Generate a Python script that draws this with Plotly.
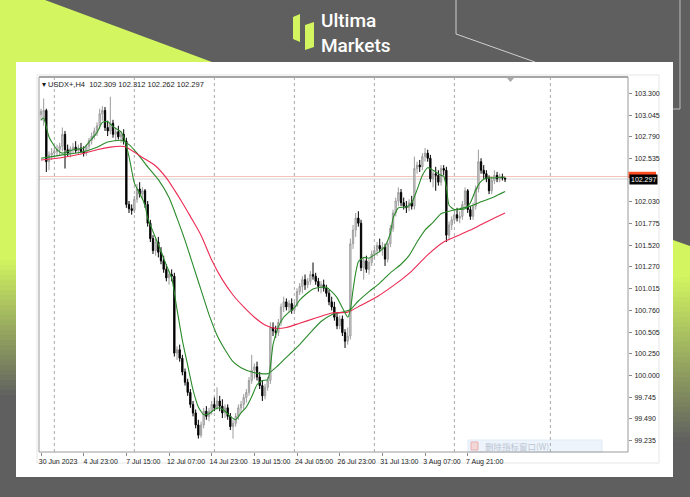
import plotly.graph_objects as go

# ---------------- data ----------------
symbol = "USDX+"
timeframe = "H4"

open_ = [103.05,102.98,103.10,102.50,102.58,102.60,102.62,102.64,102.68,102.82,
         102.64,102.60,102.65,102.67,102.63,102.66,102.62,102.60,102.68,102.75,
         102.80,102.86,102.92,103.06,103.10,102.90,102.86,102.95,102.82,102.85,
         102.79,102.82,102.74,102.00,101.95,101.93,102.06,102.18,102.12,102.16,
         102.00,101.78,101.60,101.46,101.56,101.44,101.34,101.24,101.14,101.18,
         101.16,100.26,100.30,100.20,100.04,99.92,99.80,99.66,99.56,99.42,
         99.30,99.42,99.58,99.52,99.58,99.66,99.62,99.70,99.64,99.56,
         99.62,99.52,99.40,99.44,99.52,99.62,99.66,99.74,99.80,99.94,
         100.06,100.10,99.98,99.88,99.76,99.86,99.94,100.56,100.52,100.50,
         100.62,100.80,100.86,100.80,100.84,100.76,100.82,100.98,101.04,101.12,
         101.06,101.10,101.18,101.16,101.10,101.04,101.06,101.02,100.96,100.86,
         100.80,100.68,100.58,100.66,100.50,100.40,100.46,101.54,101.70,101.84,
         101.78,101.26,101.34,101.24,101.32,101.42,101.46,101.52,101.48,101.50,
         101.36,101.54,101.72,101.90,102.04,102.14,102.02,101.98,101.96,102.02,
         101.98,102.42,102.46,102.44,102.56,102.60,102.54,102.30,102.36,102.34,
         102.26,102.42,102.40,101.64,101.76,101.82,101.88,101.84,101.86,102.00,
         102.16,101.94,101.86,101.98,102.18,102.50,102.40,102.36,102.30,102.16,
         102.28,102.34,102.30,102.32,102.309]
high_ = [103.12,103.24,103.12,102.62,102.66,102.68,102.70,102.72,102.90,102.86,
         102.70,102.68,102.72,102.74,102.70,102.72,102.68,102.70,102.78,102.84,
         102.90,102.96,103.12,103.15,103.14,102.98,103.26,102.99,102.90,102.92,
         102.86,102.88,102.78,102.04,102.00,102.10,102.24,102.26,102.20,102.18,
         102.04,101.82,101.64,101.60,101.62,101.50,101.40,101.30,101.22,101.24,
         101.20,100.34,100.36,100.24,100.08,99.96,99.84,99.70,99.60,99.48,
         99.46,99.62,99.64,99.62,99.70,99.74,99.86,99.76,99.72,99.66,
         99.66,99.56,99.48,99.56,99.66,99.70,99.78,99.84,99.98,100.24,
         100.14,100.16,100.04,99.94,99.90,99.98,100.62,100.62,100.58,100.66,
         100.84,100.92,100.90,100.88,100.90,100.86,101.02,101.08,101.16,101.18,
         101.14,101.22,101.32,101.20,101.14,101.10,101.12,101.06,101.00,100.92,
         100.86,100.74,100.70,100.70,100.54,100.56,101.60,101.76,101.90,101.92,
         101.82,101.38,101.40,101.36,101.46,101.50,101.56,101.60,101.56,101.54,
         101.58,101.76,101.94,102.08,102.20,102.18,102.08,102.04,102.06,102.10,
         102.56,102.50,102.52,102.60,102.66,102.64,102.58,102.40,102.44,102.40,
         102.46,102.46,102.44,101.80,101.86,101.92,101.96,101.92,102.04,102.20,
         102.18,101.98,102.02,102.22,102.64,102.54,102.46,102.40,102.34,102.32,
         102.40,102.38,102.36,102.36,102.312]
low_ = [102.98,102.92,102.38,102.40,102.52,102.55,102.56,102.58,102.62,102.42,
        102.56,102.55,102.60,102.60,102.58,102.60,102.56,102.57,102.64,102.70,
        102.76,102.80,102.88,102.98,102.86,102.80,102.82,102.78,102.74,102.76,
        102.72,102.70,101.96,101.90,101.88,101.90,102.02,102.08,102.06,101.96,
        101.74,101.56,101.42,101.40,101.38,101.30,101.20,101.10,101.06,101.10,
        100.22,100.18,100.16,100.00,99.88,99.76,99.62,99.52,99.38,99.26,
        99.27,99.38,99.48,99.46,99.54,99.58,99.60,99.58,99.50,99.50,
        99.48,99.36,99.26,99.40,99.48,99.56,99.60,99.68,99.76,99.90,
        99.96,99.94,99.84,99.70,99.72,99.82,99.90,100.46,100.44,100.46,
        100.58,100.74,100.76,100.74,100.72,100.72,100.80,100.94,100.96,101.00,
        101.02,101.06,101.12,101.06,100.98,100.96,100.98,100.92,100.82,100.76,
        100.64,100.54,100.54,100.46,100.32,100.36,100.42,101.48,101.62,101.74,
        101.22,101.12,101.20,101.18,101.28,101.36,101.40,101.44,101.40,101.28,
        101.32,101.50,101.68,101.86,101.98,101.98,101.94,101.90,101.92,101.94,
        101.94,102.36,102.38,102.40,102.50,102.50,102.26,102.20,102.16,102.22,
        102.22,102.34,101.56,101.58,101.70,101.78,101.80,101.78,101.82,101.96,
        101.90,101.82,101.82,101.94,102.14,102.36,102.30,102.26,102.12,102.12,
        102.24,102.26,102.26,102.28,102.262]
close_ = [103.09,103.10,102.50,102.58,102.60,102.62,102.64,102.68,102.82,102.64,
          102.60,102.65,102.67,102.63,102.66,102.62,102.60,102.68,102.75,102.80,
          102.86,102.92,103.06,103.10,102.90,102.86,102.95,102.82,102.85,102.79,
          102.82,102.74,102.00,101.95,101.93,102.06,102.18,102.12,102.16,102.00,
          101.78,101.60,101.46,101.56,101.44,101.34,101.24,101.14,101.18,101.16,
          100.26,100.30,100.20,100.04,99.92,99.80,99.66,99.56,99.42,99.30,
          99.42,99.58,99.52,99.58,99.66,99.62,99.70,99.64,99.56,99.62,
          99.52,99.40,99.44,99.52,99.62,99.66,99.74,99.80,99.94,100.06,
          100.10,99.98,99.88,99.76,99.86,99.94,100.56,100.52,100.50,100.62,
          100.80,100.86,100.80,100.84,100.76,100.82,100.98,101.04,101.12,101.06,
          101.10,101.18,101.16,101.10,101.04,101.06,101.02,100.96,100.86,100.80,
          100.68,100.58,100.66,100.50,100.40,100.46,101.54,101.70,101.84,101.78,
          101.26,101.34,101.24,101.32,101.42,101.46,101.52,101.48,101.50,101.36,
          101.54,101.72,101.90,102.04,102.14,102.02,101.98,101.96,102.02,101.98,
          102.42,102.46,102.44,102.56,102.60,102.54,102.30,102.36,102.34,102.26,
          102.42,102.40,101.64,101.76,101.82,101.88,101.84,101.86,102.00,102.16,
          101.94,101.86,101.98,102.18,102.50,102.40,102.36,102.30,102.16,102.28,
          102.34,102.30,102.32,102.309,102.297]

# moving averages (sampled at bar indices)
ma_fast_idx = [0,1,3,6,8,12,16,18,21,23,25,27,30,31,33,34,35,37,39,40,44,47,49,51,53,55,57,59,
               61,63,65,67,69,71,73,75,77,79,81,83,85,86,87,89,91,93,95,97,99,102,105,107,109,
               111,113,115,116,117,118,119,121,123,125,127,129,131,132,134,137,139,141,143,145,
               147,149,150,151,152,153,155,157,159,161,163,165,167,170,174]
ma_fast = [102.99,103.01,102.79,102.64,102.60,102.64,102.66,102.73,102.84,102.96,102.97,102.91,
           102.85,102.79,102.56,102.40,102.25,102.13,101.99,101.84,101.53,101.29,101.14,100.77,
           100.41,100.12,99.83,99.63,99.54,99.55,99.60,99.62,99.58,99.52,99.48,99.56,99.63,
           99.75,99.89,99.94,99.95,100.10,100.36,100.57,100.68,100.74,100.79,100.88,100.94,
           101.01,101.03,101.03,100.98,100.91,100.79,100.68,100.77,101.00,101.20,101.33,101.38,
           101.37,101.41,101.45,101.51,101.66,101.84,101.96,101.97,102.02,102.17,102.34,102.43,
           102.40,102.36,102.34,102.33,102.20,101.99,101.94,101.94,101.95,102.02,102.17,102.27,
           102.31,102.31,102.32]
ma_slow_idx = [0,8,15,21,25,30,33,36,40,44,48,51,54,57,60,63,66,69,72,75,80,85,88,91,94,97,
               101,105,109,113,116,119,123,127,131,135,138,141,144,147,150,153,157,161,165,170,174]
ma_slow = [102.54,102.58,102.61,102.67,102.73,102.75,102.70,102.60,102.44,102.29,102.08,101.84,
           101.58,101.29,101.00,100.71,100.47,100.30,100.16,100.09,100.03,100.02,100.09,100.18,
           100.27,100.36,100.50,100.63,100.71,100.74,100.77,100.87,100.98,101.08,101.20,101.30,
           101.40,101.56,101.70,101.79,101.89,101.92,101.95,101.98,102.03,102.09,102.15]
ma_red_idx = [0,8,15,21,26,30,32,38,43,47,50,53,56,60,64,68,72,76,80,84,88,92,97,103,109,115,
              120,126,133,139,145,151,156,161,166,170,174]
ma_red = [102.52,102.55,102.59,102.64,102.67,102.68,102.67,102.55,102.45,102.31,102.17,102.02,
          101.86,101.64,101.35,101.12,100.94,100.80,100.68,100.59,100.55,100.56,100.61,100.67,
          100.73,100.74,100.82,100.92,101.07,101.22,101.41,101.56,101.63,101.70,101.78,101.84,
          101.90]

bid_price = 102.297
ask_price = 102.327

x_label_idx = [0,16,32,48,64,80,96,112,128,144,160]
x_labels = ["30 Jun 2023","4 Jul 23:00","7 Jul 15:00","12 Jul 07:00","14 Jul 23:00",
            "19 Jul 15:00","24 Jul 05:00","26 Jul 23:00","31 Jul 13:00","3 Aug 07:00",
            "7 Aug 21:00"]
y_labels = ["103.300","103.045","102.790","102.535","102.030","101.775","101.520","101.270",
            "101.015","100.760","100.505","100.250","100.000","99.745","99.490","99.235"]
week_start_idx = [5,35,65,95,125,155,191]
menu_text = "删除指标窗口(W)"
brand_lines = ["Ultima", "Markets"]

# ---------------- figure ----------------
W, H = 690, 497
def px(x): return x / W
def py(y): return 1 - y / H

LIME = (211, 246, 96)
GRAY = (95, 95, 95)
def blend(t):
    c = [round(LIME[k] + (GRAY[k] - LIME[k]) * t) for k in range(3)]
    return "rgb(%d,%d,%d)" % tuple(c)
def path(points):
    s = "M " + " L ".join("%f,%f" % (px(a), py(b)) for a, b in points) + " Z"
    return s

bar_idx = list(range(len(close_)))
fig = go.Figure()
fig.add_trace(go.Candlestick(
    x=bar_idx, open=open_, high=high_, low=low_, close=close_,
    increasing=dict(line=dict(color="#9c9c9c", width=1), fillcolor="#dcdcdc"),
    decreasing=dict(line=dict(color="#000000", width=1), fillcolor="#000000"),
    whiskerwidth=0, hoverinfo="skip", showlegend=False))
fig.add_trace(go.Scatter(x=ma_slow_idx, y=ma_slow, mode="lines",
                         line=dict(color="#2a8a2a", width=1.1, shape="spline", smoothing=0.6),
                         hoverinfo="skip", showlegend=False))
fig.add_trace(go.Scatter(x=ma_red_idx, y=ma_red, mode="lines",
                         line=dict(color="#ec2a52", width=1.1, shape="spline", smoothing=0.6),
                         hoverinfo="skip", showlegend=False))
fig.add_trace(go.Scatter(x=ma_fast_idx, y=ma_fast, mode="lines",
                         line=dict(color="#2a8a2a", width=1.1, shape="spline", smoothing=0.5),
                         hoverinfo="skip", showlegend=False))

shapes = []
# lime decorations
shapes.append(dict(type="path", xref="paper", yref="paper", layer="below",
                   path=path([(0, 0), (45, 0), (212, 62), (16, 62), (16, 256), (0, 256)]),
                   fillcolor=blend(0), line=dict(width=0)))
y = 255
while y < 395:
    t = (y - 255) / 140
    shapes.append(dict(type="rect", xref="paper", yref="paper", layer="below",
                       x0=0, x1=px(16), y0=py(y), y1=py(y + 5.5),
                       fillcolor=blend(t), line=dict(width=0)))
    y += 5
shapes.append(dict(type="path", xref="paper", yref="paper", layer="below",
                   path=path([(673, 240), (690, 246), (690, 273), (673, 273)]),
                   fillcolor=blend(0), line=dict(width=0)))
y = 272
while y < 440:
    t = (y - 272) / 168
    shapes.append(dict(type="rect", xref="paper", yref="paper", layer="below",
                       x0=px(673), x1=1, y0=py(y), y1=py(y + 5.5),
                       fillcolor=blend(t), line=dict(width=0)))
    y += 5
# thin light lines top right
shapes.append(dict(type="path", xref="paper", yref="paper", layer="below",
                   path="M %f,%f L %f,%f L %f,%f" % (px(456), py(0), px(456), py(34), px(535), py(62)),
                   line=dict(color="#cfcfcf", width=1)))
shapes.append(dict(type="path", xref="paper", yref="paper", layer="below",
                   path="M %f,%f L %f,%f L %f,%f" % (px(680), py(0), px(680), py(109), px(673), py(109)),
                   line=dict(color="#bdbdbd", width=1)))
# logo icon
shapes.append(dict(type="path", xref="paper", yref="paper", layer="below",
                   path=path([(293, 17), (300, 14), (300, 42), (293, 39)]),
                   fillcolor=blend(0), line=dict(width=0)))
shapes.append(dict(type="path", xref="paper", yref="paper", layer="below",
                   path=path([(305, 25), (314, 22), (314, 47), (305, 50)]),
                   fillcolor=blend(0), line=dict(width=0)))
# white panel
shapes.append(dict(type="rect", xref="paper", yref="paper", layer="below",
                   x0=px(16), x1=px(673), y0=py(477), y1=py(62),
                   fillcolor="white", line=dict(width=0)))
# MT4 window outer frame
shapes.append(dict(type="rect", xref="paper", yref="paper", layer="below",
                   x0=px(37), x1=px(659), y0=py(463), y1=py(75),
                   fillcolor="rgba(0,0,0,0)", line=dict(color="#e6e6e6", width=1)))
# menu popup remnant
shapes.append(dict(type="rect", xref="paper", yref="paper", layer="below",
                   x0=px(468), x1=px(602), y0=py(452), y1=py(440),
                   fillcolor="#eef4fb", line=dict(color="#e0eaf5", width=1)))
shapes.append(dict(type="rect", xref="paper", yref="paper", layer="below",
                   x0=px(471), x1=px(478), y0=py(450), y1=py(442),
                   fillcolor="#f3d6d6", line=dict(color="#e8b0b0", width=1)))
# weekly dotted grid
for w in week_start_idx:
    shapes.append(dict(type="line", xref="x", yref="y domain", layer="below",
                       x0=w, x1=w, y0=0, y1=1,
                       line=dict(color="#a9a9a9", width=1, dash="dot")))
# ask / bid lines
shapes.append(dict(type="line", xref="x domain", yref="y", layer="below",
                   x0=0, x1=1, y0=ask_price, y1=ask_price,
                   line=dict(color="#f6c2ba", width=1)))
shapes.append(dict(type="line", xref="x domain", yref="y", layer="below",
                   x0=0, x1=1, y0=bid_price, y1=bid_price,
                   line=dict(color="#d4d4d4", width=1)))
# plot frame
shapes.append(dict(type="rect", xref="x domain", yref="y domain",
                   x0=0, x1=1, y0=0, y1=1, line=dict(color="#9a9a9a", width=1)))
shapes.append(dict(type="line", xref="x domain", yref="y domain",
                   x0=0, x1=1, y0=1, y1=1, line=dict(color="#a6a6a6", width=2)))
# chart shift marker
shapes.append(dict(type="path", xref="paper", yref="paper",
                   path=path([(507, 78), (514, 78), (510.5, 82)]),
                   fillcolor="#a8a8a8", line=dict(width=0)))
# ask price label box (mostly hidden behind the bid label)
shapes.append(dict(type="rect", xref="paper", yref="y",
                   x0=px(628.5), x1=px(656), y0=ask_price - 0.02, y1=ask_price + 0.055,
                   fillcolor="#ff4d1f", line=dict(width=0)))

annotations = []
annotations.append(dict(text=brand_lines[0], xref="paper", yref="paper", x=px(320), y=py(33.5),
                        xanchor="left", yanchor="bottom", showarrow=False, borderpad=0,
                        font=dict(family="Roboto", size=19, color="white", weight=500)))
annotations.append(dict(text=brand_lines[1], xref="paper", yref="paper", x=px(320), y=py(33.5),
                        xanchor="left", yanchor="top", showarrow=False, borderpad=0,
                        font=dict(family="Roboto", size=19, color="white", weight=500)))
header = "▾ %s,%s  %.3f %.3f %.3f %.3f" % (symbol, timeframe, open_[-1], high_[-1], low_[-1], close_[-1])
annotations.append(dict(text=header, xref="paper", yref="paper", x=px(40), y=py(84.5),
                        xanchor="left", yanchor="middle", showarrow=False,
                        font=dict(family="Liberation Sans", size=7.5, color="#1a1a1a")))
annotations.append(dict(text="%.3f" % bid_price, xref="paper", yref="y", x=px(629), y=bid_price,
                        xanchor="left", yanchor="middle", showarrow=False, bgcolor="#000000",
                        borderpad=1, font=dict(family="Liberation Sans", size=7, color="white")))
annotations.append(dict(text=menu_text, xref="paper", yref="paper", x=px(483), y=py(446),
                        xanchor="left", yanchor="middle", showarrow=False,
                        font=dict(family="Noto Sans CJK SC", size=8.5, color="#b9c4d2")))

fig.update_layout(
    width=W, height=H, margin=dict(l=0, r=0, t=0, b=0),
    paper_bgcolor="#5f5f5f", plot_bgcolor="rgba(0,0,0,0)",
    showlegend=False, hovermode=False,
    shapes=shapes, annotations=annotations,
    xaxis=dict(domain=[px(39), px(628)], range=[-0.75, 220.1], showgrid=False, zeroline=False,
               showline=False, rangeslider=dict(visible=False), fixedrange=True,
               tickmode="array", tickvals=x_label_idx, ticktext=x_labels,
               ticks="outside", ticklen=3, tickcolor="#888888",
               ticklabelshift=17, ticklabelstandoff=0,
               tickfont=dict(family="Liberation Sans", size=7, color="#222222")),
    yaxis=dict(domain=[py(452), py(77)], range=[99.103, 103.491], side="right",
               showgrid=False, zeroline=False, showline=False, fixedrange=True,
               tickmode="array", tickvals=[float(v) for v in y_labels], ticktext=y_labels,
               ticks="outside", ticklen=3, tickcolor="#888888", ticklabelstandoff=1,
               tickfont=dict(family="Liberation Sans", size=7, color="#222222")),
)
fig.write_html("out.html", config={"displayModeBar": False},
               post_script="document.body.style.margin='0';document.body.style.padding='0';")
